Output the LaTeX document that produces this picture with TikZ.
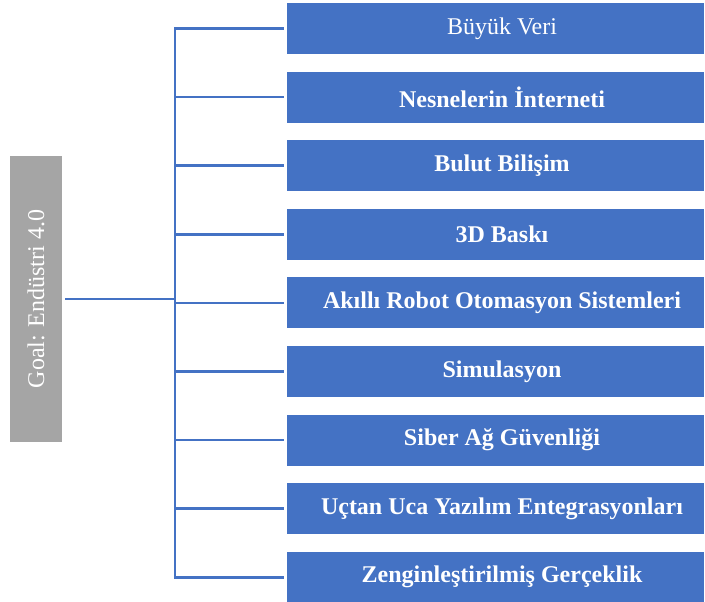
\documentclass[tikz,border=0pt]{standalone}
\usepackage{fontspec}
\setmainfont{Liberation Serif}
\usetikzlibrary{positioning}
\definecolor{itemblue}{HTML}{4472C4}
\definecolor{goalgrey}{HTML}{A5A5A5}
\begin{document}
\begin{tikzpicture}[x=1pt,y=1pt,line join=miter,
    font=\fontsize{24}{28}\selectfont,
    item/.style={fill=itemblue,text=white,minimum width=417pt,minimum height=51pt,
      inner sep=0pt,outer sep=0pt,font=\fontsize{24}{28}\selectfont\bfseries,
      execute at begin node=\hspace*{13pt}},
    goal/.style={fill=goalgrey,text=white,minimum width=286pt,minimum height=52pt,
      inner sep=0pt,outer sep=0pt,rotate=90},
    link/.style={draw=itemblue,line width=2.5pt}]
    \useasboundingbox (0,0) rectangle (705,-602);
    \node[goal] (goal) at (36,-299) {Goal: Endüstri 4.0};
    \node[item,font=\fontsize{24}{28}\selectfont] (i1) at (495.5,-28.5) {Büyük Veri};
    \node[item,below=17.6pt of i1] (i2) {Nesnelerin İnterneti};
    \node[item,below=17.6pt of i2] (i3) {Bulut Bilişim};
    \node[item,below=17.6pt of i3] (i4) {3D Baskı};
    \node[item,below=17.6pt of i4] (i5) {Akıllı Robot Otomasyon Sistemleri};
    \node[item,below=17.6pt of i5] (i6) {Simulasyon};
    \node[item,below=17.6pt of i6] (i7) {Siber Ağ Güvenliği};
    \node[item,below=17.6pt of i7] (i8) {Uçtan Uca Yazılım Entegrasyonları};
    \node[item,below=17.6pt of i8] (i9) {Zenginleştirilmiş Gerçeklik};
    % tree connectors
    \coordinate (trunk) at (175,-299);
    \draw[link] ([xshift=3pt]goal.south) -- (trunk);
    \foreach \n in {i1,i2,i3,i4,i5,i6,i7,i8,i9}
        \draw[link] (trunk) |- ([xshift=-3pt]\n.west);
\end{tikzpicture}
\end{document}
